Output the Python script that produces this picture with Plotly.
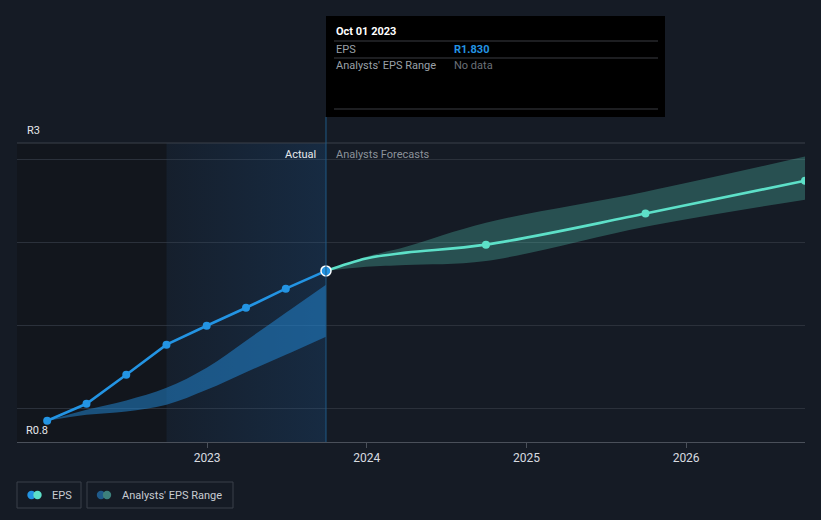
import plotly.graph_objects as go

# ---------------- data ----------------
actual_dates = ["2021-12-31", "2022-03-31", "2022-06-30", "2022-09-30",
                "2022-12-31", "2023-03-31", "2023-06-30", "2023-09-30"]
actual_eps = [0.928, 1.03, 1.205, 1.386, 1.50, 1.608, 1.723, 1.83]
actual_range_hi = [0.928, 0.994, 1.05, 1.126, 1.247, 1.41, 1.578, 1.747]
actual_range_lo = [0.928, 0.964, 0.984, 1.024, 1.114, 1.22, 1.325, 1.434]

fc_dates = ["2023-09-30", "2023-12-31", "2024-03-31", "2024-09-30", "2025-09-30", "2026-09-30"]
fc_eps = [1.83, 1.905, 1.94, 1.988, 2.175, 2.373]
fc_hi = [1.83, 1.915, 1.976, 2.12, 2.307, 2.518]
fc_lo = [1.83, 1.855, 1.866, 1.89, 2.096, 2.259]
fc_marker_dates = ["2024-09-30", "2025-09-30", "2026-09-30"]
fc_marker_eps = [1.988, 2.175, 2.373]

year_ticks = ["2023-01-01", "2024-01-01", "2025-01-01", "2026-01-01"]
year_labels = ["2023", "2024", "2025", "2026"]

x_range = ["2021-10-23", "2026-09-30"]
y_range = [0.8, 2.6]
y_grid = [1.0, 1.5, 2.0, 2.5]

# ---------------- pixel helpers ----------------
W, H = 821, 520
L, R, T, B = 17, 805, 143, 442


def px(x):
    return (x - L) / (R - L)


def py(y):
    return (B - y) / (B - T)


BG = "#151b25"
BLUE = "#2394e3"
TEAL = "#5de0c8"

fig = go.Figure()

# highlighted "last year" region with gradient
fig.add_trace(go.Scatter(
    x=[actual_dates[3], actual_dates[-1], actual_dates[-1], actual_dates[3], actual_dates[3]],
    y=[y_range[0], y_range[0], y_range[1], y_range[1], y_range[0]],
    mode="lines", line=dict(width=0), fill="toself",
    fillgradient=dict(type="horizontal",
                      colorscale=[[0, "rgba(30,110,190,0.05)"], [1, "rgba(30,110,190,0.19)"]]),
    hoverinfo="skip", showlegend=False))

# actual range band
fig.add_trace(go.Scatter(x=actual_dates, y=actual_range_lo, mode="lines",
                         line=dict(width=0, shape="spline"), hoverinfo="skip", showlegend=False))
fig.add_trace(go.Scatter(x=actual_dates, y=actual_range_hi, mode="lines",
                         line=dict(width=0, shape="spline"), fill="tonexty",
                         fillcolor="rgba(33,140,220,0.5)", hoverinfo="skip", showlegend=False))

# forecast range band
fig.add_trace(go.Scatter(x=fc_dates, y=fc_lo, mode="lines",
                         line=dict(width=0, shape="spline"), hoverinfo="skip", showlegend=False))
fig.add_trace(go.Scatter(x=fc_dates, y=fc_hi, mode="lines",
                         line=dict(width=0, shape="spline"), fill="tonexty",
                         fillcolor="rgba(93,224,200,0.27)", hoverinfo="skip", showlegend=False))

# forecast line
fig.add_trace(go.Scatter(x=fc_dates, y=fc_eps, mode="lines",
                         line=dict(color=TEAL, width=2.6, shape="spline"),
                         hoverinfo="skip", showlegend=False))
fig.add_trace(go.Scatter(x=fc_marker_dates, y=fc_marker_eps, mode="markers",
                         marker=dict(color=TEAL, size=8), hoverinfo="skip", showlegend=False))

# actual line
fig.add_trace(go.Scatter(x=actual_dates, y=actual_eps, mode="lines+markers",
                         line=dict(color=BLUE, width=2.6),
                         marker=dict(color=BLUE, size=8), hoverinfo="skip", showlegend=False))
fig.add_trace(go.Scatter(x=[actual_dates[-1]], y=[actual_eps[-1]], mode="markers",
                         marker=dict(color=BLUE, size=10, line=dict(color="white", width=1.5)),
                         hoverinfo="skip", showlegend=False))

shapes = []
# dark past region
shapes.append(dict(type="rect", xref="x", yref="paper", x0=x_range[0], x1=actual_dates[3],
                   y0=0, y1=1, fillcolor="#12161d", line=dict(width=0), layer="below"))
# top line
shapes.append(dict(type="line", xref="paper", yref="paper", x0=0, x1=1, y0=1, y1=1,
                   line=dict(color="#3a404a", width=1)))
# vertical "today" line
shapes.append(dict(type="line", xref="x", yref="paper", x0=actual_dates[-1], x1=actual_dates[-1],
                   y0=0, y1=py(117), line=dict(color="#1f5a85", width=1)))
# tooltip box
shapes.append(dict(type="rect", xref="paper", yref="paper", x0=px(326), x1=px(665),
                   y0=py(117), y1=py(16), fillcolor="#000000", line=dict(width=0)))
for yy in (41, 58, 109):
    shapes.append(dict(type="line", xref="paper", yref="paper", x0=px(334), x1=px(658),
                       y0=py(yy), y1=py(yy), line=dict(color="#3a3d42", width=1)))
# legend boxes
shapes.append(dict(type="rect", xref="paper", yref="paper", x0=px(17), x1=px(81),
                   y0=py(508), y1=py(482), line=dict(color="#3a404a", width=1)))
shapes.append(dict(type="rect", xref="paper", yref="paper", x0=px(87), x1=px(233),
                   y0=py(508), y1=py(482), line=dict(color="#3a404a", width=1)))
for cx, col in ((31.5, BLUE), (37.5, TEAL), (101, "#1f5a8a"), (107, "#3d807c")):
    shapes.append(dict(type="circle", xref="paper", yref="paper",
                       x0=px(cx - 4.2), x1=px(cx + 4.2), y0=py(495 + 4.2), y1=py(495 - 4.2),
                       fillcolor=col, line=dict(width=0)))

FONT = "Roboto"
ann = []


def text(x, y, s, color, size=12, anchor="left", bold=False):
    ann.append(dict(xref="paper", yref="paper", x=px(x), y=py(y), text=f"<b>{s}</b>" if bold else s,
                    showarrow=False, xanchor=anchor, yanchor="middle",
                    font=dict(family=FONT, size=size, color=color)))


text(25, 130, "R3", "#e6e8eb", 11)
text(24, 430, "R0.8", "#e6e8eb", 11)
text(318, 154, "Actual", "#e6e8eb", 11, anchor="right")
text(334, 154, "Analysts Forecasts", "#8c929a", 11)
text(334, 31, "Oct 01 2023", "#ffffff", 11, bold=True)
text(334, 49, "EPS", "#9aa0a8", 11)
text(452, 49, "R1.830", BLUE, 11, bold=True)
text(334, 66, "Analysts' EPS Range", "#9aa0a8", 11)
text(452, 66, "No data", "#6b7078", 11)
text(50, 495, "EPS", "#c8ccd2", 11)
text(120, 495, "Analysts' EPS Range", "#c8ccd2", 11)

fig.update_layout(
    width=W, height=H,
    margin=dict(l=L, r=W - R, t=T, b=H - B),
    paper_bgcolor=BG, plot_bgcolor=BG,
    showlegend=False,
    shapes=shapes, annotations=ann,
    font=dict(family=FONT, color="#d0d4da"),
    xaxis=dict(type="date", range=x_range, tickvals=year_ticks, ticktext=year_labels,
               showgrid=False, zeroline=False, showline=True, linecolor="#4a505a", linewidth=1,
               ticks="outside", ticklen=5, tickcolor="#4a505a",
               tickfont=dict(family=FONT, size=12, color="#d8dbe0")),
    yaxis=dict(range=y_range, tickvals=y_grid, showticklabels=False, showgrid=True,
               gridcolor="#2b313b", gridwidth=1, zeroline=False, showline=False),
)

fig.write_html("out.html")
